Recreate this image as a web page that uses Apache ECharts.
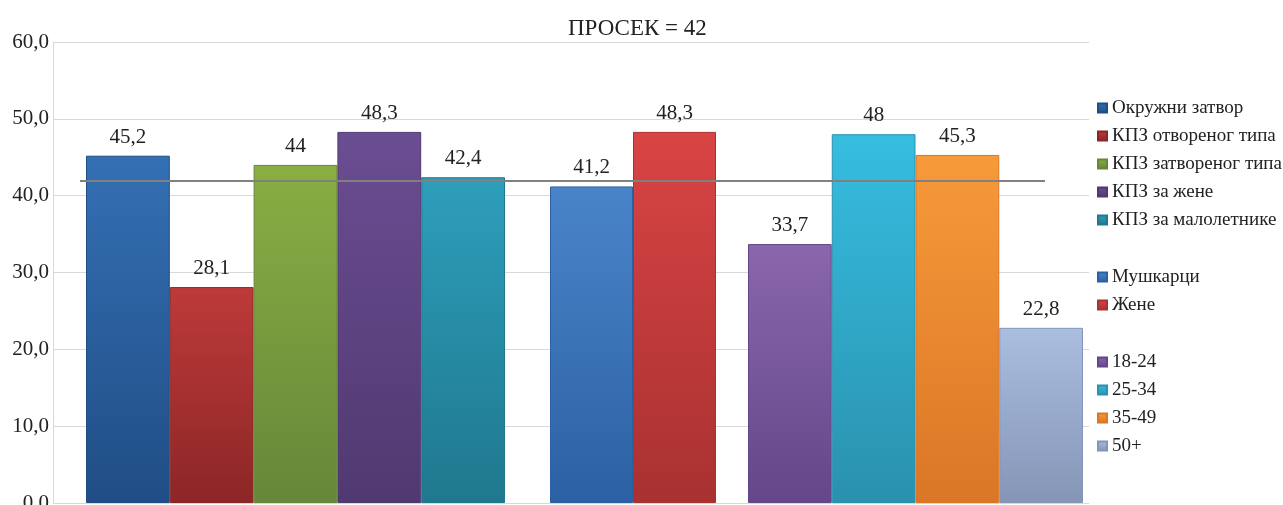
<!DOCTYPE html>
<html>
<head>
<meta charset="utf-8">
<script src="https://cdn.jsdelivr.net/npm/echarts@6/dist/echarts.min.js"></script>
<style>html,body{margin:0;padding:0;background:#fff}#c{width:1283px;height:505px}</style>
</head>
<body>
<div id="c"></div>
<script>
// ---- data ----
const titleText = 'ПРОСЕК = 42';
const average = 42;
const groupA = ['Окружни затвор', 'КПЗ отвореног типа', 'КПЗ затвореног типа', 'КПЗ за жене', 'КПЗ за малолетнике'];
const valuesA = [45.2, 28.1, 44, 48.3, 42.4];
const groupB = ['Мушкарци', 'Жене'];
const valuesB = [41.2, 48.3];
const groupC = ['18-24', '25-34', '35-49', '50+'];
const valuesC = [33.7, 48, 45.3, 22.8];
const yMin = 0, yMax = 60, yInterval = 10;

// ---- styles ----
const colorsA = [['#3470b4', '#204d85'], ['#be3a3a', '#8c2626'], ['#89ae43', '#668739'], ['#6b4d93', '#503970'], ['#2e9ebb', '#1f788e']];
const colorsB = [['#4a84c8', '#2b61a4'], ['#d94444', '#a93131']];
const colorsC = [['#8a66ad', '#644788'], ['#36bde0', '#2a91ae'], ['#f79a3a', '#da7626'], ['#aabee0', '#8595b6']];
const FONT = '"Liberation Serif", "DejaVu Serif", serif';
const TOP = 42, BOTTOM = 2;

function grad(c) {
  return { type: 'linear', x: 0, y: 0, x2: 0, y2: 1, colorStops: [{ offset: 0, color: c[0] }, { offset: 1, color: c[1] }] };
}
function fmt(v) { return String(v).replace('.', ','); }

const gridBase = { top: TOP, bottom: BOTTOM, outerBoundsMode: 'none', containLabel: false };
const grids = [
  Object.assign({ left: 53, right: 194 }, gridBase),   // background axis & gridlines
  Object.assign({ left: 86, width: 419 }, gridBase),   // group A
  Object.assign({ left: 550, width: 166 }, gridBase),  // group B
  Object.assign({ left: 748, width: 335 }, gridBase),  // group C
  Object.assign({ left: 80, width: 965 }, gridBase)    // average line
];
const groups = [[groupA, valuesA, colorsA], [groupB, valuesB, colorsB], [groupC, valuesC, colorsC]];

const xAxes = [{ gridIndex: 0, type: 'category', data: [''], show: false }];
const yAxes = [{
  gridIndex: 0, type: 'value', min: yMin, max: yMax, interval: yInterval,
  axisLine: { show: true, lineStyle: { color: '#d9d9d9', width: 1 } },
  axisTick: { show: false },
  splitLine: { show: true, lineStyle: { color: '#d9d9d9', width: 1 } },
  axisLabel: { fontFamily: FONT, fontSize: 21, color: '#222', margin: 4, formatter: v => v.toFixed(1).replace('.', ',') }
}];
const series = [];
groups.forEach((g, gi) => {
  const idx = gi + 1;
  xAxes.push({ gridIndex: idx, type: 'category', data: g[0], show: false });
  yAxes.push({ gridIndex: idx, type: 'value', min: yMin, max: yMax, interval: yInterval, show: false, splitLine: { show: false } });
  g[0].forEach((name, i) => {
    const data = g[0].map((_, j) => j === i ? g[1][i] : '-');
    series.push({
      type: 'bar', name: name, xAxisIndex: idx, yAxisIndex: idx, data: data,
      barGap: '-100%', barCategoryGap: '0%',
      itemStyle: { color: grad(g[2][i]), borderColor: g[2][i][1], borderWidth: 1 },
      label: { show: true, position: 'top', distance: 8, fontFamily: FONT, fontSize: 21, color: '#222', formatter: p => fmt(p.value) }
    });
  });
});
xAxes.push({ gridIndex: 4, type: 'category', data: [''], show: false });
yAxes.push({ gridIndex: 4, type: 'value', min: yMin, max: yMax, interval: yInterval, show: false, splitLine: { show: false } });
series.push({
  type: 'bar', name: 'avg', xAxisIndex: 4, yAxisIndex: 4, data: ['-'], silent: true,
  markLine: { silent: true, symbol: 'none', label: { show: false }, lineStyle: { color: '#808080', width: 2, type: 'solid' }, data: [{ yAxis: average }] }
});

const legendBase = { orient: 'vertical', left: 1097, padding: 0, itemWidth: 9, itemHeight: 9, itemGap: 8, icon: 'rect',
  textStyle: { fontFamily: FONT, fontSize: 19, color: '#222', lineHeight: 20 }, selectedMode: false };

const option = {
  animation: false,
  backgroundColor: '#fff',
  title: { text: titleText, left: 568, top: 17, padding: 0, textStyle: { fontFamily: FONT, fontSize: 23, fontWeight: 'normal', color: '#222' } },
  legend: [
    Object.assign({}, legendBase, { top: 98, data: groupA }),
    Object.assign({}, legendBase, { top: 267, data: groupB }),
    Object.assign({}, legendBase, { top: 352, data: groupC })
  ],
  grid: grids,
  xAxis: xAxes,
  yAxis: yAxes,
  series: series
};
const chart = echarts.init(document.getElementById('c'), null, { renderer: 'canvas' });
chart.setOption(option);
</script>
</body>
</html>
